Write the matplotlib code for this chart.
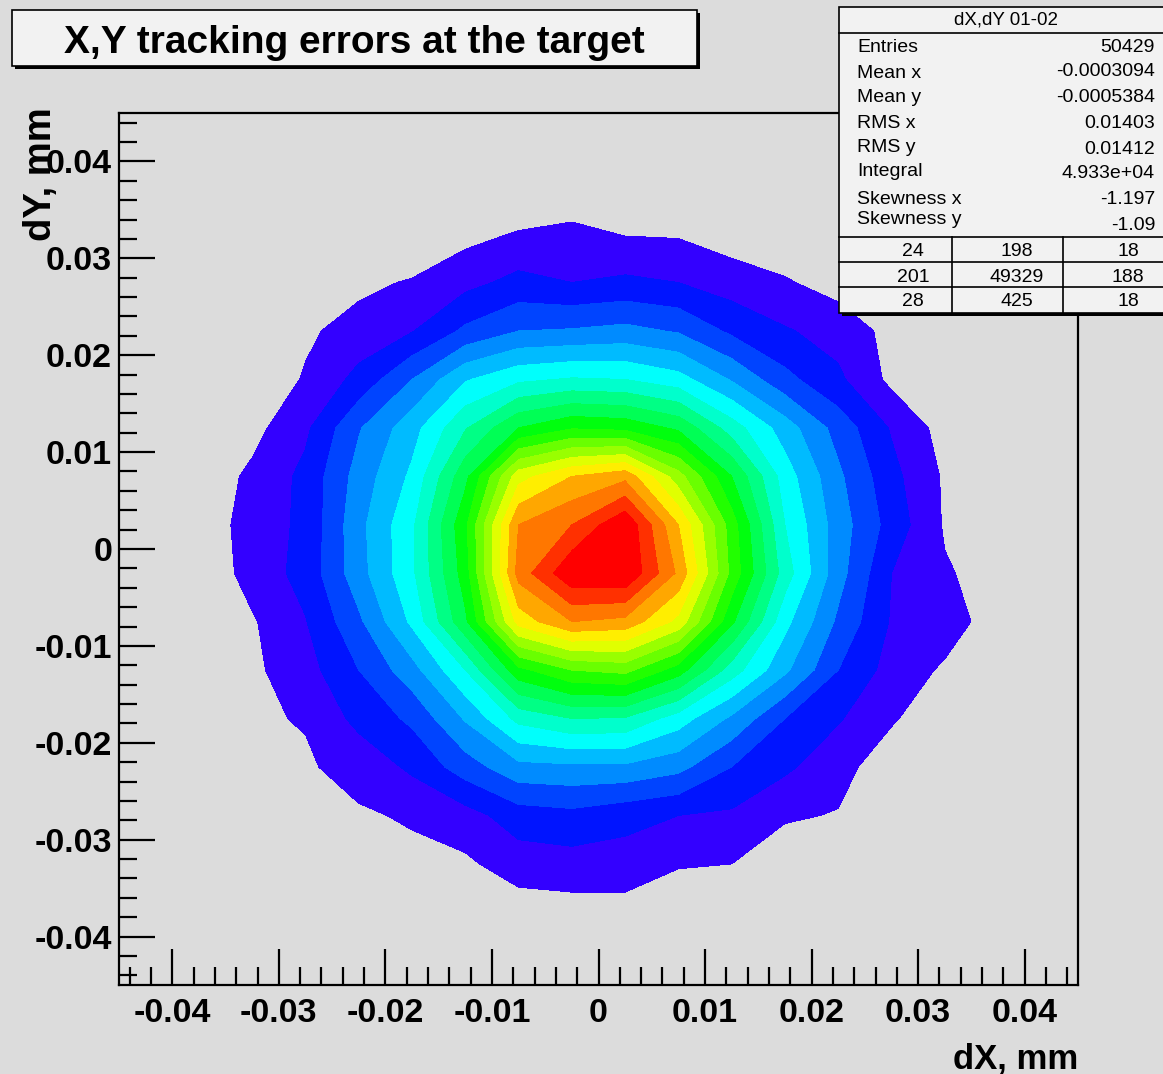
# plot.py - ROOT style CONT plot of dX,dY tracking errors
import numpy as np
import matplotlib
matplotlib.use("Agg")
import matplotlib.pyplot as plt
from matplotlib.patches import Rectangle
from matplotlib.ticker import MultipleLocator, FixedLocator

plt.rcParams['font.family'] = ['Liberation Sans', 'DejaVu Sans']
plt.rcParams['axes.unicode_minus'] = False

# ================================
# Data
# ================================
# bin centres, 18 x 18 bins of 0.005 mm between -0.045 and 0.045
x_centers = [-0.0425, -0.0375, -0.0325, -0.0275, -0.0225, -0.0175, -0.0125, -0.0075, -0.0025,
             0.0025, 0.0075, 0.0125, 0.0175, 0.0225, 0.0275, 0.0325, 0.0375, 0.0425]
y_centers = list(x_centers)

# bin contents in units of (max / 20), read off the contour bands
# rows go from dY = +0.0425 (top) down to dY = -0.0425 (bottom)
z_rows = [
    [0, 0, 0, 0, 0, 0, 0, 0, 0, 0, 0, 0, 0, 0, 0, 0, 0, 0],
    [0, 0, 0, 0, 0, 0, 0, 0, 0.1, 0.1, 0.1, 0, 0, 0, 0, 0, 0, 0],
    [0, 0, 0, 0, 0, 0, 0.68, 1.08, 1.3, 0.95, 0.9, 0.5, 0.3, 0.1, 0, 0, 0, 0],
    [0, 0, 0, 0.2, 0.75, 1.1, 1.7, 2.3, 2.0, 2.2, 2.0, 1.5, 1.1, 0.6, 0.3, 0, 0, 0],
    [0, 0, 0, 0.83, 1.4, 1.95, 3.2, 4.0, 4.1, 4.3, 3.9, 2.8, 2.1, 1.6, 0.7, 0.2, 0, 0],
    [0, 0, 0.2, 1.1, 2.3, 4.0, 5.9, 6.8, 7.1, 7.0, 6.4, 4.9, 3.3, 2.2, 0.75, 0.4, 0.1, 0],
    [0, 0.1, 0.68, 1.8, 3.9, 5.6, 7.9, 10.0, 10.9, 10.7, 9.8, 7.5, 5.5, 3.6, 1.9, 0.6, 0.3, 0],
    [0, 0.37, 1.2, 2.26, 4.4, 6.2, 9.7, 14.6, 16.0, 16.7, 13.4, 10.0, 6.5, 4.2, 2.3, 0.86, 0.4, 0.1],
    [0, 0.25, 1.5, 2.2, 4.7, 6.8, 10.8, 17.0, 18.0, 19.9, 16.0, 11.5, 7.0, 4.5, 2.6, 0.89, 0.3, 0],
    [0, 0.2, 1.4, 2.34, 4.6, 6.8, 10.5, 17.4, 19.85, 20.0, 16.8, 11.7, 7.5, 4.4, 2.0, 1.1, 0.6, 0],
    [0, 0.1, 0.89, 1.95, 3.8, 6.2, 9.8, 15.4, 17.0, 16.7, 14.7, 10.2, 6.3, 3.8, 1.9, 1.5, 0.48, 0.1],
    [0, 0, 0.8, 1.6, 3.0, 4.6, 7.0, 10.7, 12.0, 12.3, 10.5, 7.5, 5.2, 3.0, 1.6, 0.85, 0.3, 0],
    [0, 0, 0.9, 1.05, 2.3, 3.2, 5.1, 7.3, 8.0, 7.9, 6.5, 4.8, 3.0, 2.1, 1.1, 0.4, 0.1, 0],
    [0, 0, 0.3, 0.9, 1.3, 2.2, 3.5, 4.7, 4.8, 4.8, 4.3, 3.0, 2.2, 1.3, 0.5, 0.1, 0, 0],
    [0, 0, 0, 0.3, 0.9, 1.09, 1.6, 2.5, 2.7, 2.3, 2.0, 1.84, 1.1, 0.95, 0.3, 0, 0, 0],
    [0, 0, 0, 0, 0.3, 0.79, 0.82, 1.5, 1.6, 1.6, 1.1, 1.0, 0.5, 0.3, 0, 0, 0, 0],
    [0, 0, 0, 0, 0, 0, 0.2, 0.46, 0.57, 0.57, 0.1, 0, 0, 0, 0, 0, 0, 0],
    [0, 0, 0, 0, 0, 0, 0, 0, 0, 0, 0, 0, 0, 0, 0, 0, 0, 0],
]

tick_values = [-0.04, -0.03, -0.02, -0.01, 0, 0.01, 0.02, 0.03, 0.04]
tick_labels = ["-0.04", "-0.03", "-0.02", "-0.01", "0", "0.01", "0.02", "0.03", "0.04"]

stat_names = ["Entries", "Mean x", "Mean y", "RMS x", "RMS y", "Integral", "Skewness x", "Skewness y"]
stat_values = ["50429", "-0.0003094", "-0.0005384", "0.01403", "0.01412", "4.933e+04", "-1.197", "-1.09"]
overflow_table = [["24", "198", "18"],
                  ["201", "49329", "188"],
                  ["28", "425", "18"]]

# 20 equidistant contour levels (ROOT default), lowest band left unpainted
contour_levels = list(range(1, 20)) + [21]
band_colors = ["#3300FF", "#0014FF", "#0044FF", "#008BFF", "#00BBFF", "#00FFFC", "#00FFCC",
               "#00FF85", "#00FF55", "#00FF0E", "#22FF00", "#69FF00", "#99FF00", "#E0FF00",
               "#FFEE00", "#FFA700", "#FF7700", "#FF3000", "#FF0000"]

# ================================
# Figure
# ================================
W, H = 1163, 1074
bg = "#DCDCDC"
fig = plt.figure(figsize=(W / 100, H / 100), dpi=100, facecolor=bg)

ax_l, ax_r, ax_t, ax_b = 119, 1078, 113, 985
ax = fig.add_axes([ax_l / W, 1 - ax_b / H, (ax_r - ax_l) / W, (ax_b - ax_t) / H])
ax.set_facecolor(bg)

z = np.array(z_rows)[::-1]
ax.contourf(x_centers, y_centers, z, levels=contour_levels, colors=band_colors)

ax.set_xlim(-0.045, 0.045)
ax.set_ylim(-0.045, 0.045)
for axis in (ax.xaxis, ax.yaxis):
    axis.set_major_locator(FixedLocator(tick_values))
    axis.set_minor_locator(MultipleLocator(0.002))
ax.set_xticklabels(tick_labels)
ax.set_yticklabels(tick_labels)
ax.tick_params(which='major', direction='in', length=26, width=1.6, top=False, right=False,
               labelsize=24.5)
ax.tick_params(which='minor', direction='in', length=13, width=1.6, top=False, right=False)
ax.tick_params(axis='x', which='major', pad=9.5)
ax.tick_params(axis='y', which='major', pad=5)
for lab in ax.get_xticklabels() + ax.get_yticklabels():
    lab.set_fontweight('bold')
for sp in ax.spines.values():
    sp.set_linewidth(1.6)
    sp.set_color('black')

ax.set_xlabel("dX, mm", fontsize=25, fontweight='bold', ha='right', va='baseline')
ax.xaxis.set_label_coords(1.0, (ax_b - 1068) / (ax_b - ax_t))
ax.set_ylabel("dY, mm", fontsize=27.5, fontweight='bold', ha='right', va='center')
ax.yaxis.set_label_coords((41 - ax_l) / (ax_r - ax_l), (ax_b - 107) / (ax_b - ax_t))

# ================================
# Title box and stats box (pixel coords overlay)
# ================================
ov = fig.add_axes([0, 0, 1, 1], zorder=10)
ov.set_xlim(0, W)
ov.set_ylim(H, 0)
ov.axis('off')
ov.patch.set_alpha(0)

# title
ov.add_patch(Rectangle((15, 13), 685, 56, facecolor='black', edgecolor='none'))
ov.add_patch(Rectangle((12, 10), 685, 56, facecolor='#F2F2F2', edgecolor='black', linewidth=1.2))
ov.text(354, 53, "X,Y tracking errors at the target", fontsize=28, fontweight='bold',
        ha='center', va='baseline')

# stats
sx0, sx1, sy0, sy1 = 839, 1175, 7, 313
ov.add_patch(Rectangle((sx0 + 3, sy0 + 3), sx1 - sx0, sy1 - sy0, facecolor='black', edgecolor='none'))
ov.add_patch(Rectangle((sx0, sy0), sx1 - sx0, sy1 - sy0, facecolor='#F2F2F2', edgecolor='black',
                       linewidth=1.2))
ov.plot([sx0, sx1], [33, 33], color='black', lw=1.2)
ov.text(1006, 20, "dX,dY 01-02", fontsize=13.5, ha='center', va='center')

name_y = [48, 73, 97, 123, 147, 172, 199, 220]
value_y = [47, 72, 97, 123, 149, 173, 200, 225]
for name, yy in zip(stat_names, name_y):
    ov.text(857, yy, name, fontsize=14, ha='left', va='center')
for val, yy in zip(stat_values, value_y):
    ov.text(1155, yy, val, fontsize=14, ha='right', va='center')

row_lines = [237, 262, 287]
for yy in row_lines:
    ov.plot([sx0, sx1], [yy, yy], color='black', lw=1.2)
for xx in (952, 1063):
    ov.plot([xx, xx], [237, sy1], color='black', lw=1.2)
col_x = [913, 1017, 1128]
row_y = [252, 277, 302]
for row, yy in zip(overflow_table, row_y):
    for txt, xx in zip(row, col_x):
        ov.text(xx, yy, txt, fontsize=14, ha='center', va='center')

fig.savefig("out.png", dpi=100, facecolor=bg)
